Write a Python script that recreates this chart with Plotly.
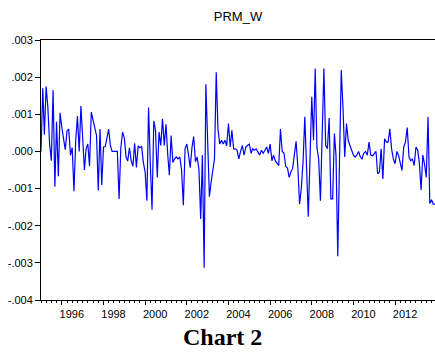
import plotly.graph_objects as go
import pandas as pd

# PRM_W monthly values, in units of 0.001, from 1995M01
prm_w_e3 = [
    0.0, 1.7, 0.45, 1.75, 1.2, 0.2, -0.25, 1.65, -0.95, 0.8,
    -0.67, 1.04, 0.65, 0.3, 0.05, 0.55, 0.6, -0.1, 0.1, -1.07,
    0.3, 0.95, 0.0, 1.22, 0.3, -0.5, 0.07, 0.2, -0.4, 1.06,
    0.85, 0.65, 0.43, -1.05, 0.6, -0.9, 0.12, 0.13, 0.35, 0.6,
    0.17, 0.0, 0.0, 0.0, 0.0, -1.28, 0.1, 0.52, 0.37, -0.15,
    -0.26, 0.1, -0.25, -0.4, 0.22, -0.43, 0.15, 0.1, 0.13, -0.3,
    -0.55, -1.33, 1.18, -0.33, -1.57, 0.82, 0.57, -0.7, 0.52, 0.16,
    0.88, 0.16, 0.73, -0.1, -0.64,
    0.43, -0.3, -0.2, -0.15, -0.2, -0.15, -0.5, -1.45, 0.07, 0.2,
    -0.1, -0.44, 0.1, 0.4, -0.28, -0.15, -0.47, -1.82, -0.1, -3.13,
    1.81, 0.3, -1.22, -0.85, -0.5, -0.2, 2.13, 0.6, 0.2, 0.3,
    0.2, 0.3, 0.15, 0.75, 0.12, 0.57, 0.07, 0.07, 0.03, -0.2,
    0.0, 0.16, -0.1, 0.12, 0.16, 0.2, -0.05, 0.07, 0.03, 0.07,
    -0.02, -0.1, 0.03, -0.05, 0.03, 0.12, -0.05, 0.2, -0.25, -0.1,
    -0.25, -0.3, -0.38, 0.6,
    0.0, -0.05, -0.4, -0.45, -0.7, -0.55, -0.45, -0.1, 0.27, -0.4,
    -1.42, -1.0, -0.3, 0.93, -0.3, -1.76, -0.2, 1.47, 0.3, 2.23,
    0.1, -0.2, -1.33, 0.2, 2.23, 0.16, 0.07, 0.9, -1.28, -1.28,
    0.48, -0.1, -2.82, -0.3, 2.19, 1.2, -0.15, 0.75, 0.3, 0.16,
    0.0, -0.1, -0.15, -0.1, 0.0, -0.15, -0.2, -0.05, 0.0, -0.1,
    0.25, -0.1, -0.12, -0.05, 0.0, -0.6, -0.56, 0.07, -0.74, 0.34,
    0.25, 0.25, 0.61, 0.07, -0.2, -0.33, 0.0, -0.1, -0.3, -0.51,
    0.12, 0.25, 0.64, -0.15, -0.25, -0.2, -0.38, 0.12, 0.03, -0.3,
    -1.04, -0.1, -0.35, -0.7, 0.93, -1.4, -1.3, -1.42, -1.42,
]
prm_w = [v * 1e-3 for v in prm_w_e3]
dates = pd.date_range("1995-01-01", periods=len(prm_w), freq="MS")

year_ticks = ["1996", "1998", "2000", "2002", "2004", "2006", "2008", "2010", "2012"]
y_ticks = [0.003, 0.002, 0.001, 0.0, -0.001, -0.002, -0.003, -0.004]
y_labels = [".003", ".002", ".001", ".000", "-.001", "-.002", "-.003", "-.004"]

fig = go.Figure()
fig.add_trace(go.Scatter(x=dates, y=prm_w, mode="lines",
                         line=dict(color="#0000FF", width=1.2), showlegend=False))

fig.update_layout(
    width=435, height=355,
    margin=dict(l=41, r=0, t=40, b=55),
    paper_bgcolor="white", plot_bgcolor="white",
    font=dict(family="Liberation Sans, Arial", size=11, color="black"),
    title=dict(text="PRM_W", x=0.5, xref="paper", xanchor="center",
               y=1 - 16 / 355, yanchor="middle", font=dict(size=13)),
    annotations=[dict(text="<b>Chart 2</b>", xref="paper", yref="paper",
                      x=0.46, y=-0.142, xanchor="center", yanchor="middle",
                      showarrow=False,
                      font=dict(family="Liberation Serif, Times New Roman", size=24, color="black"))],
)
fig.update_xaxes(
    type="date",
    range=[dates[0], dates[-1]],
    tickvals=[pd.Timestamp(f"{y}-01-01") for y in year_ticks],
    ticktext=year_ticks,
    ticklabelshift=10,
    ticks="outside", ticklen=4, tickcolor="black", tickwidth=1,
    minor=dict(dtick="M3", tick0="1995-01-01", ticks="outside", ticklen=2,
               tickcolor="black", tickwidth=1, showgrid=False),
    showline=True, linecolor="black", linewidth=1, mirror=True,
    showgrid=False, zeroline=False,
)
fig.update_yaxes(
    range=[-0.004, 0.003],
    tickvals=y_ticks, ticktext=y_labels,
    ticks="outside", ticklen=5, tickcolor="black", tickwidth=1,
    showline=True, linecolor="black", linewidth=1,
    showgrid=False, zeroline=False,
)
fig.write_html("out.html")
